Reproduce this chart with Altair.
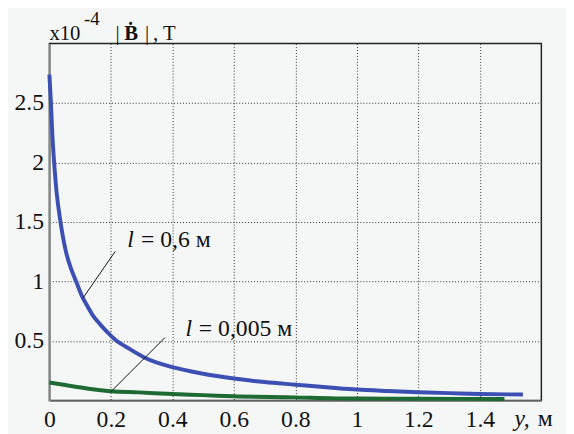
import altair as alt
import pandas as pd

# ---- data ----
blue_x = [0, 0.005, 0.0085, 0.014, 0.023, 0.035, 0.053, 0.07, 0.087, 0.109, 0.122,
          0.14, 0.165, 0.19, 0.214, 0.25, 0.31, 0.4, 0.5, 0.6, 0.7, 0.8, 0.93, 1.0,
          1.1, 1.2, 1.3, 1.4, 1.54]
blue_y = [2.74, 2.5, 2.29, 2.05, 1.76, 1.52, 1.26, 1.11, 1.0, 0.86, 0.8,
          0.72, 0.64, 0.57, 0.51, 0.45, 0.36, 0.28, 0.225, 0.185, 0.155, 0.133, 0.105, 0.092,
          0.08, 0.07, 0.062, 0.055, 0.05]

green_x = [0, 0.08, 0.2, 0.29, 0.4, 0.5, 0.6, 0.8, 0.93, 1.0, 1.2, 1.48]
green_y = [0.151, 0.118, 0.077, 0.068, 0.054, 0.045, 0.035, 0.026, 0.018, 0.017, 0.015, 0.012]

x_ticks = [0, 0.2, 0.4, 0.6, 0.8, 1, 1.2, 1.4]
y_ticks = [0.5, 1, 1.5, 2, 2.5]

# leader lines (data coordinates): x, y -> x2, y2
lead_x = [0.109, 0.2]
lead_y = [0.86, 0.074]
lead_x2 = [0.214, 0.376]
lead_y2 = [1.253, 0.529]

# annotation labels
ann_l_x = [0.253, 0.443]
ann_rest_x = [0.298, 0.486]
ann_y = [1.287, 0.54]
ann_rest = ["= 0,6 м", "= 0,005 м"]

FONT = "Times New Roman, Liberation Serif, serif"
BLUE = "#3c50b4"
GREEN = "#1d6b32"

xs = alt.Scale(domain=[0, 1.6], nice=False, zero=True)
ys = alt.Scale(domain=[0, 3], nice=False, zero=True)

curves = pd.DataFrame({
    "y": blue_x + green_x,
    "B": blue_y + green_y,
    "l": ["0.6"] * len(blue_x) + ["0.005"] * len(green_x),
})

x_axis = alt.Axis(values=x_ticks, format="~g", labelFont=FONT, labelFontSize=24,
                  labelColor="#111", ticks=False, domainColor="#777", domainWidth=1.5,
                  grid=True, gridColor="#333", gridDash=[1, 2], gridWidth=1,
                  gridOpacity=alt.condition("datum.value == 0", alt.value(0), alt.value(1)),
                  labelPadding=26, labelBaseline="alphabetic", labelFlush=False, title=None)
y_axis = alt.Axis(values=y_ticks, format="~g", labelFont=FONT, labelFontSize=24,
                  labelColor="#111", ticks=False, domainColor="#888", domainWidth=2,
                  grid=True, gridColor="#333", gridDash=[1, 2], gridWidth=1,
                  labelPadding=6, labelBaseline="middle", title=None)

lines = alt.Chart(curves).mark_line(strokeWidth=4, interpolate="monotone").encode(
    x=alt.X("y:Q", scale=xs, axis=x_axis),
    y=alt.Y("B:Q", scale=ys, axis=y_axis),
    color=alt.Color("l:N", scale=alt.Scale(domain=["0.6", "0.005"], range=[BLUE, GREEN]),
                    legend=None),
    detail="l:N",
)

leads_df = pd.DataFrame({"x": lead_x, "y": lead_y, "x2": lead_x2, "y2": lead_y2})
leads = alt.Chart(leads_df).mark_rule(color="#111", strokeWidth=1).encode(
    x=alt.X("x:Q", scale=xs), y=alt.Y("y:Q", scale=ys), x2="x2:Q", y2="y2:Q")

ann_df = pd.DataFrame({"xl": ann_l_x, "xr": ann_rest_x, "y": ann_y, "t": ann_rest})
ann_l = alt.Chart(ann_df).mark_text(text="l", font=FONT, fontSize=24, fontStyle="italic",
                                    align="left", baseline="alphabetic", color="#111").encode(
    x=alt.X("xl:Q", scale=xs), y=alt.Y("y:Q", scale=ys))
ann_r = alt.Chart(ann_df).mark_text(font=FONT, fontSize=24, align="left",
                                    baseline="alphabetic", color="#111").encode(
    x=alt.X("xr:Q", scale=xs), y=alt.Y("y:Q", scale=ys), text="t:N")

# x-axis title "y, м"
xt_df = pd.DataFrame({"x": [1.513, 1.588], "t": ["y,", "м"]})
xt_i = alt.Chart(xt_df.iloc[[0]]).mark_text(font=FONT, fontSize=24, fontStyle="italic",
                                            align="left", baseline="alphabetic",
                                            color="#111").encode(
    x=alt.X("x:Q", scale=xs), y=alt.value(388), text="t:N")
xt_n = alt.Chart(xt_df.iloc[[1]]).mark_text(font=FONT, fontSize=24, align="left",
                                            baseline="alphabetic", color="#111").encode(
    x=alt.X("x:Q", scale=xs), y=alt.value(388), text="t:N")

# y-axis title "x10^-4 |Ḃ|, T"
tt_df = pd.DataFrame({
    "px": [0, 35, 67, 76, 97, 105],
    "py": [-4, -19, -4, -4, -4, -4],
    "t": ["x10", "-4", "|", "Ḃ", "|", ", T"],
    "fs": [21, 19, 21, 21, 21, 21],
    "fw": ["normal", "normal", "normal", "bold", "normal", "normal"],
})
title_parts = []
for i in range(len(tt_df)):
    row = tt_df.iloc[[i]]
    title_parts.append(
        alt.Chart(row).mark_text(font=FONT, fontSize=int(row["fs"].iloc[0]),
                                 fontWeight=row["fw"].iloc[0], align="left",
                                 baseline="alphabetic", color="#111").encode(
            x=alt.value(int(row["px"].iloc[0])), y=alt.value(int(row["py"].iloc[0])),
            text="t:N"))

chart = alt.layer(lines, leads, ann_l, ann_r, xt_i, xt_n, *title_parts).properties(
    width=499, height=362, background="#f5f6f6",
    padding={"left": 42, "top": 33, "right": 25, "bottom": 40},
    autosize=alt.AutoSizeParams(type="none"),
).configure_view(stroke="#222", strokeWidth=1.5, fill="#f5f6f6")

chart.save("out.html", embed_options={"renderer": "svg", "actions": False})
